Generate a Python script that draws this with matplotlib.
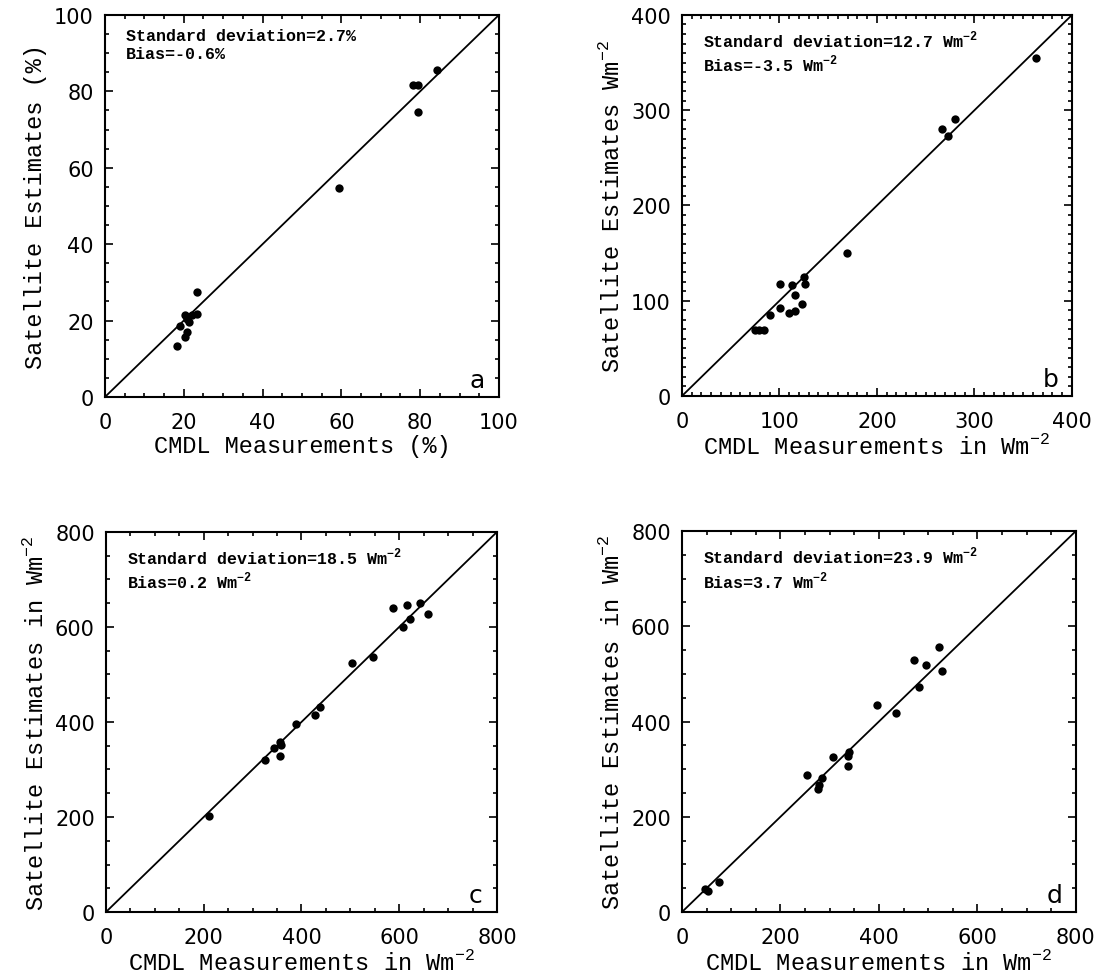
import numpy as np
import matplotlib
matplotlib.use('Agg')
import matplotlib.pyplot as plt
from matplotlib.ticker import MultipleLocator

#################### DATA ####################

# panel a: albedo / percentage
a_cmdl = [84.4, 78.3, 79.5, 79.4, 59.4, 23.3, 23.3, 22.2, 20.3, 20.9, 21.4, 19.0, 20.7, 20.3, 18.2, 20.7]
a_sat = [85.6, 81.6, 81.6, 74.7, 54.7, 27.5, 21.6, 21.5, 21.5, 20.3, 19.6, 18.6, 17.0, 15.7, 13.4, 20.9]

# panel b
b_cmdl = [363, 266.7, 272.8, 279.7, 169, 124.8, 126.5, 100.9, 112.8, 115.6, 123, 116, 109.4,
          100.9, 90, 83.8, 75.2, 78.6]
b_sat = [355, 280, 273, 290.5, 150, 124.6, 117.5, 117.5, 116.5, 106, 96.5, 89, 87,
         92, 85, 69, 69, 69]

# panel c
c_cmdl = [210.6, 325, 343.5, 355.7, 359, 355.7, 389.8, 427, 437.5, 503.6, 546.5, 587.4,
          616, 642, 659, 607.8, 621.5]
c_sat = [201.7, 321, 344.7, 357, 351.7, 329, 395.8, 414.7, 430.8, 524, 536, 639,
         646, 651.5, 628, 599, 616.5]

# panel d
d_cmdl = [46, 52.8, 75.8, 253.8, 276, 277.5, 284, 306.6, 336.4, 336.4, 338.4, 396,
          434.5, 470.4, 480.5, 496, 521, 528]
d_sat = [47.7, 44, 63, 288, 257.5, 266.7, 282, 325, 307.4, 327.7, 335.4, 433.7,
         417.5, 528.4, 471.6, 517.9, 555.8, 506.7]

wm = r'Wm$^{\mathregular{-2}}$'
panels = [
    # data x, data y, limit, major, minor, xlabel, ylabel, stats, letter, axes rect
    (a_cmdl, a_sat, 100, 20, 5, 'CMDL Measurements (%)', 'Satellite Estimates (%)',
     'Standard deviation=2.7%\nBias=-0.6%', 'a', [0.0956, 0.5935, 0.3588, 0.3902]),
    (b_cmdl, b_sat, 400, 100, 10, 'CMDL Measurements in ' + wm, 'Satellite Estimates ' + wm,
     'Standard deviation=12.7 ' + wm + '\nBias=-3.5 ' + wm, 'b', [0.6211, 0.5945, 0.3552, 0.3892]),
    (c_cmdl, c_sat, 800, 200, 50, 'CMDL Measurements in ' + wm, 'Satellite Estimates in ' + wm,
     'Standard deviation=18.5 ' + wm + '\nBias=0.2 ' + wm, 'c', [0.0965, 0.0674, 0.3561, 0.3882]),
    (d_cmdl, d_sat, 800, 200, 50, 'CMDL Measurements in ' + wm, 'Satellite Estimates in ' + wm,
     'Standard deviation=23.9 ' + wm + '\nBias=3.7 ' + wm, 'd', [0.6211, 0.0674, 0.3588, 0.3892]),
]

#################### PLOT ####################

label_font = 'Liberation Mono'

fig = plt.figure(figsize=(10.98, 9.79), dpi=100)

for xs, ys, lim, major, minor, xlab, ylab, stats, letter, rect in panels:
    ax = fig.add_axes(rect)
    ax.plot([0, lim], [0, lim], color='black', lw=1.3)
    ax.plot(xs, ys, 'o', color='black', markersize=6, markeredgewidth=0)
    ax.set_xlim(0, lim)
    ax.set_ylim(0, lim)
    ax.xaxis.set_major_locator(MultipleLocator(major))
    ax.yaxis.set_major_locator(MultipleLocator(major))
    ax.xaxis.set_minor_locator(MultipleLocator(minor))
    ax.yaxis.set_minor_locator(MultipleLocator(minor))
    ax.tick_params(which='both', direction='in', top=True, right=True, width=1.2)
    ax.tick_params(which='major', length=6, labelsize=15)
    ax.tick_params(axis='x', which='major', pad=11)
    ax.tick_params(axis='y', which='major', pad=8)
    ax.tick_params(which='minor', length=3)
    for s in ax.spines.values():
        s.set_linewidth(1.5)
    ax.set_xlabel(xlab, family=label_font, fontsize=17, labelpad=1)
    ax.set_ylabel(ylab, family=label_font, fontsize=17, labelpad=5)
    ax.text(0.053, 0.965, stats, transform=ax.transAxes, family=label_font,
            fontweight='bold', fontsize=12, va='top', ha='left', linespacing=1.2)
    ax.text(0.945, 0.045, letter, transform=ax.transAxes, fontsize=18,
            ha='center', va='center')

plt.savefig('out.png', dpi=100)
